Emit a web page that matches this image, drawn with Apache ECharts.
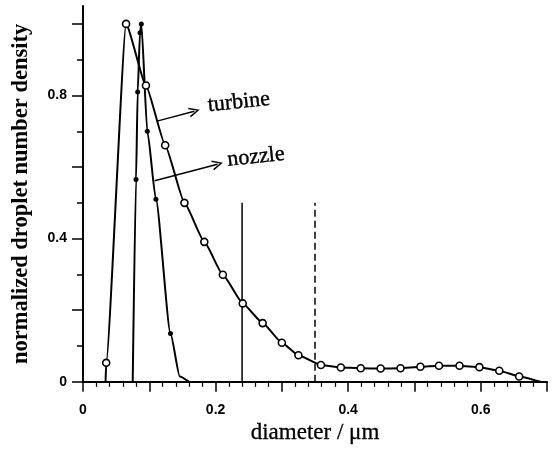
<!DOCTYPE html>
<html><head><meta charset="utf-8">
<script src="https://cdn.jsdelivr.net/npm/echarts@6/dist/echarts.min.js"></script>
<style>html,body{margin:0;padding:0;background:#fff}#c{width:555px;height:450px}</style>
</head><body><div id="c"></div>
<script>
// ---- data ----
const turbineX = [0.034, 0.035, 0.065, 0.095, 0.124, 0.153, 0.183, 0.211, 0.241, 0.271, 0.300, 0.325, 0.359, 0.389, 0.419, 0.449, 0.479, 0.509, 0.537, 0.568, 0.598, 0.628, 0.658, 0.690];
const turbineY = [0.000, 0.053, 1.000, 0.828, 0.661, 0.500, 0.391, 0.299, 0.219, 0.164, 0.109, 0.074, 0.047, 0.040, 0.038, 0.037, 0.038, 0.042, 0.045, 0.045, 0.041, 0.031, 0.015, 0.000];
const nozzleX = [0.075, 0.080, 0.0825, 0.086, 0.088, 0.097, 0.110, 0.132, 0.146, 0.160];
const nozzleY = [0.000, 0.565, 0.810, 0.975, 1.000, 0.700, 0.510, 0.135, 0.015, 0.000];
const xLabelValues = [0, 0.2, 0.4, 0.6];
const yLabelValues = [0, 0.4, 0.8];
const yMajorTicks = [0, 0.2, 0.4, 0.6, 0.8, 1.0];
const yMinorTicks = [0.1, 0.3, 0.5, 0.7, 0.9];
const solidMarkerX = 0.24;
const dashedMarkerX = 0.35;
const markerTopY = 0.5;
const annotationTexts = ['turbine', 'nozzle'];
const annotationAt = [[0.235, 0.781], [0.261, 0.628]];
const arrowFrom = [[0.113, 0.729], [0.108, 0.562]];
const arrowTo = [[0.168, 0.756], [0.203, 0.608]];

const chart = echarts.init(document.getElementById('c'), null, {renderer: 'canvas'});
const serif = 'Liberation Serif';
const tickFont = {fontFamily: 'Liberation Sans', fontWeight: 'bold', fontSize: 14, color: '#000'};
const chevron = 'path://M0,10 L5,0 L10,10 L8.6,10.6 L5,3 L1.4,10.6 Z';

function pts(xs, ys) {
  return xs.map((x, i) => ({value: [x, ys[i]]}));
}

const option = {
  animation: false,
  backgroundColor: '#fff',
  grid: {left: 83, right: 8, top: 6, bottom: 66, containLabel: false},
  xAxis: {
    type: 'value', min: 0, max: 0.7, interval: 0.1,
    axisLine: {show: true, lineStyle: {color: '#000', width: 2}},
    axisTick: {show: true, length: 10, lineStyle: {color: '#000', width: 1.5}},
    minorTick: {show: true, splitNumber: 5, length: 5, lineStyle: {color: '#000', width: 1.2}},
    axisLabel: {customValues: xLabelValues, margin: 21, formatter: v => String(v), ...tickFont},
    splitLine: {show: false}, minorSplitLine: {show: false},
    name: 'diameter / \u03bcm', nameLocation: 'middle', nameGap: 40,
    nameTextStyle: {fontFamily: serif, fontSize: 23, color: '#000', textBorderColor: '#000', textBorderWidth: 0.3}
  },
  yAxis: [
    {
      type: 'value', min: 0, max: 1.05, position: 'left',
      axisLine: {show: true, lineStyle: {color: '#000', width: 2}},
      axisTick: {show: true, length: 6, customValues: yMinorTicks, lineStyle: {color: '#000', width: 1.5}},
      axisLabel: {show: false},
      splitLine: {show: false},
      name: 'normalized droplet number density', nameLocation: 'middle', nameGap: 50,
      nameTextStyle: {fontFamily: serif, fontWeight: 'bold', fontSize: 22.5, color: '#000'}
    },
    {
      type: 'value', min: 0, max: 1.05, position: 'left', offset: 0,
      axisLine: {show: false},
      axisTick: {show: true, length: 11, customValues: yMajorTicks, lineStyle: {color: '#000', width: 1.5}},
      axisLabel: {show: true, customValues: yLabelValues, margin: 16, formatter: v => String(v), ...tickFont},
      splitLine: {show: false}
    }
  ],
  series: [
    {
      name: 'turbine', type: 'line', yAxisIndex: 0,
      data: pts(turbineX, turbineY).map(d => d.value[1] === 0 ? {value: d.value, symbol: 'none'} : d),
      smooth: 0.15, smoothMonotone: 'x',
      symbol: 'circle', symbolSize: 7, showAllSymbol: true,
      itemStyle: {color: '#fff', borderColor: '#000', borderWidth: 1.6},
      lineStyle: {color: '#000', width: 2}, z: 3
    },
    {
      name: 'nozzle', type: 'line', yAxisIndex: 0,
      data: pts(nozzleX, nozzleY).map(d => d.value[1] < 0.05 ? {value: d.value, symbol: 'none'} : d),
      smooth: 0.2, smoothMonotone: 'x',
      symbol: 'circle', symbolSize: 5, showAllSymbol: true,
      itemStyle: {color: '#000'},
      lineStyle: {color: '#000', width: 2}, z: 3
    },
    {
      type: 'line', yAxisIndex: 0, showSymbol: false, symbol: 'none',
      data: [[solidMarkerX, 0], [solidMarkerX, markerTopY]],
      lineStyle: {color: '#000', width: 1.5}
    },
    {
      type: 'line', yAxisIndex: 0, showSymbol: false, symbol: 'none',
      data: [[dashedMarkerX, 0], [dashedMarkerX, markerTopY]],
      lineStyle: {color: '#000', width: 1.5, type: [7, 4]}
    },
    {
      type: 'scatter', yAxisIndex: 0, symbolSize: 1,
      itemStyle: {opacity: 0},
      data: annotationAt.map((p, i) => ({value: p, name: annotationTexts[i]})),
      label: {show: true, position: 'inside', formatter: p => p.name, rotate: 6, opacity: 1,
        fontFamily: serif, fontSize: 22, color: '#000', textBorderColor: '#000', textBorderWidth: 0.4},
      markLine: {
        silent: true, animation: false,
        symbol: ['none', chevron], symbolSize: [10, 11],
        lineStyle: {color: '#000', width: 1.5, type: 'solid', opacity: 1},
        label: {show: false},
        data: arrowFrom.map((f, i) => [{coord: f}, {coord: arrowTo[i]}])
      }
    }
  ]
};
chart.setOption(option);
</script>
</body></html>
